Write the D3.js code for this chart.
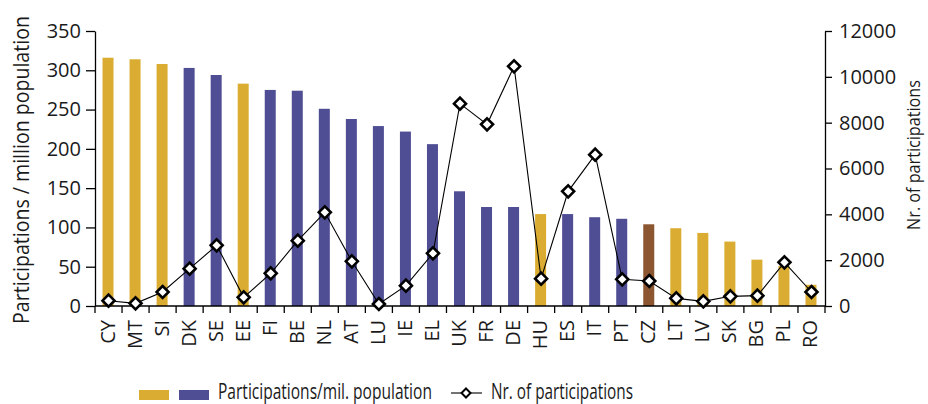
<!DOCTYPE html>
<html>
<head>
<meta charset="utf-8">
<script src="https://cdn.jsdelivr.net/npm/d3@7/dist/d3.min.js"></script>
<style>
  html, body { margin: 0; padding: 0; background: #fff; }
  svg { display: block; font-family: "Open Sans", "DejaVu Sans", sans-serif; }
</style>
</head>
<body>
<svg id="chart" width="928" height="404"></svg>
<script>
// Countries, ordered by participations per million population
const countries = ["CY","MT","SI","DK","SE","EE","FI","BE","NL","AT","LU","IE","EL","UK","FR","DE","HU","ES","IT","PT","CZ","LT","LV","SK","BG","PL","RO"];
// Participations per million population (left axis)
const perMillion = [316,314,308,303,294,283,275,274,251,238,229,222,206,146,126,126,117,117,113,111,104,99,93,82,59,51,27];
// Total number of participations (right axis)
const totalParticipations = [232,116,611,1629,2647,378,1425,2851,4087,1949,87,887,2298,8830,7927,10458,1193,5003,6604,1164,1091,334,204,422,451,1905,611];
// Country group for bar colouring
const group = ["g","g","g","b","b","g","b","b","b","b","b","b","b","b","b","b","g","b","b","b","c","g","g","g","g","g","g"];
const leftTicks = [0,50,100,150,200,250,300,350];
const rightTicks = [0,2000,4000,6000,8000,10000,12000];

const colours = { g: "#DAAD32", b: "#4F4E94", c: "#8C5630" };

const svg = d3.select("#chart");
const m = { left: 95, right: 825, top: 31, bottom: 306 };

const x = d3.scaleBand().domain(countries).range([m.left, m.right]).paddingInner(0).paddingOuter(0);
const yL = d3.scaleLinear().domain([0, 350]).range([m.bottom, m.top]);
const yR = d3.scaleLinear().domain([0, 12000]).range([m.bottom, m.top]);

const barW = 11;

// Condensed text: squeeze a label horizontally to a given run length
function condensed(parent, str, size, tx, ty, rot, len, anchor) {
  const t = parent.append("text")
    .attr("text-anchor", anchor)
    .attr("font-size", size)
    .attr("fill", "#1a1a1a")
    .text(str);
  const natural = t.node().getComputedTextLength();
  const k = len / natural;
  t.attr("transform", `translate(${tx},${ty}) rotate(${rot}) scale(${k},1)`);
  return t;
}

// Bars
svg.append("g").selectAll("rect")
  .data(countries)
  .join("rect")
  .attr("x", (d) => x(d) + x.bandwidth() / 2 - barW / 2 - 0.5)
  .attr("width", barW)
  .attr("y", (d, i) => yL(perMillion[i]))
  .attr("height", (d, i) => yL(0) - yL(perMillion[i]))
  .attr("fill", (d, i) => colours[group[i]]);

// Left axis
const axL = svg.append("g")
  .attr("transform", `translate(${m.left},0)`)
  .call(d3.axisLeft(yL).tickValues(leftTicks).tickSize(9).tickPadding(5).tickSizeOuter(0));
axL.select(".domain").attr("stroke", "#000").attr("stroke-width", 1.3);
axL.selectAll(".tick line").attr("stroke", "#000").attr("stroke-width", 1.3);
axL.selectAll(".tick text").attr("font-size", 20).attr("fill", "#1a1a1a")
  .attr("font-family", "'Open Sans', sans-serif");

// Right axis
const axR = svg.append("g")
  .attr("transform", `translate(${m.right},0)`)
  .call(d3.axisRight(yR).tickValues(rightTicks).tickFormat(d3.format("d"))
    .tickSize(7).tickPadding(7).tickSizeOuter(0));
axR.select(".domain").attr("stroke", "#000").attr("stroke-width", 1.3);
axR.selectAll(".tick line").attr("stroke", "#000").attr("stroke-width", 1.3);
axR.selectAll(".tick text").attr("font-size", 20).attr("fill", "#1a1a1a")
  .attr("font-family", "'Open Sans', sans-serif");

// Bottom axis with ticks at the band boundaries
const axB = svg.append("g").attr("transform", `translate(0,${m.bottom})`);
axB.append("line").attr("x1", m.left).attr("x2", m.right).attr("stroke", "#000").attr("stroke-width", 1.3);
const edges = countries.map((d) => x(d)).concat([m.right]);
axB.selectAll("line.edge").data(edges).join("line")
  .attr("class", "edge")
  .attr("x1", (d) => d).attr("x2", (d) => d)
  .attr("y1", 0).attr("y2", 7)
  .attr("stroke", "#000").attr("stroke-width", 1.3);
axB.selectAll("text").data(countries).join("text")
  .attr("transform", (d) => `translate(${x(d) + x.bandwidth() / 2 - 1},14) rotate(-90)`)
  .attr("text-anchor", "end")
  .attr("dy", "0.35em")
  .attr("font-size", 20)
  .attr("fill", "#1a1a1a")
  .text((d) => d);

// Line of total participations
const line = d3.line()
  .x((d, i) => x(countries[i]) + x.bandwidth() / 2)
  .y((d) => yR(d));
svg.append("path")
  .datum(totalParticipations)
  .attr("d", line)
  .attr("fill", "none")
  .attr("stroke", "#000")
  .attr("stroke-width", 1.1);

const diamond = "M0,-6L6,0L0,6L-6,0Z";
svg.append("g").selectAll("path")
  .data(totalParticipations)
  .join("path")
  .attr("transform", (d, i) => `translate(${x(countries[i]) + x.bandwidth() / 2},${yR(d)})`)
  .attr("d", diamond)
  .attr("fill", "#fff")
  .attr("stroke", "#000")
  .attr("stroke-width", 2.6)
  .attr("stroke-linejoin", "miter");

// Axis titles
condensed(svg, "Participations / million population", 21, 29, 170, -90, 308, "middle");
condensed(svg, "Nr. of participations", 19, 920, 155, -90, 150, "middle");

// Legend
const lg = svg.append("g");
lg.append("rect").attr("x", 139).attr("y", 390).attr("width", 30).attr("height", 10).attr("fill", colours.g);
lg.append("rect").attr("x", 179).attr("y", 390).attr("width", 30).attr("height", 10).attr("fill", colours.b);
condensed(lg, "Participations/mil. population", 21, 218, 399, 0, 214, "start");
lg.append("line").attr("x1", 451).attr("x2", 482).attr("y1", 393).attr("y2", 393)
  .attr("stroke", "#000").attr("stroke-width", 1.1);
lg.append("path").attr("transform", "translate(466,393)").attr("d", "M0,-4.5L4.5,0L0,4.5L-4.5,0Z")
  .attr("fill", "#fff").attr("stroke", "#000").attr("stroke-width", 2);
condensed(lg, "Nr. of participations", 21, 491, 399, 0, 142, "start");
</script>
</body>
</html>
